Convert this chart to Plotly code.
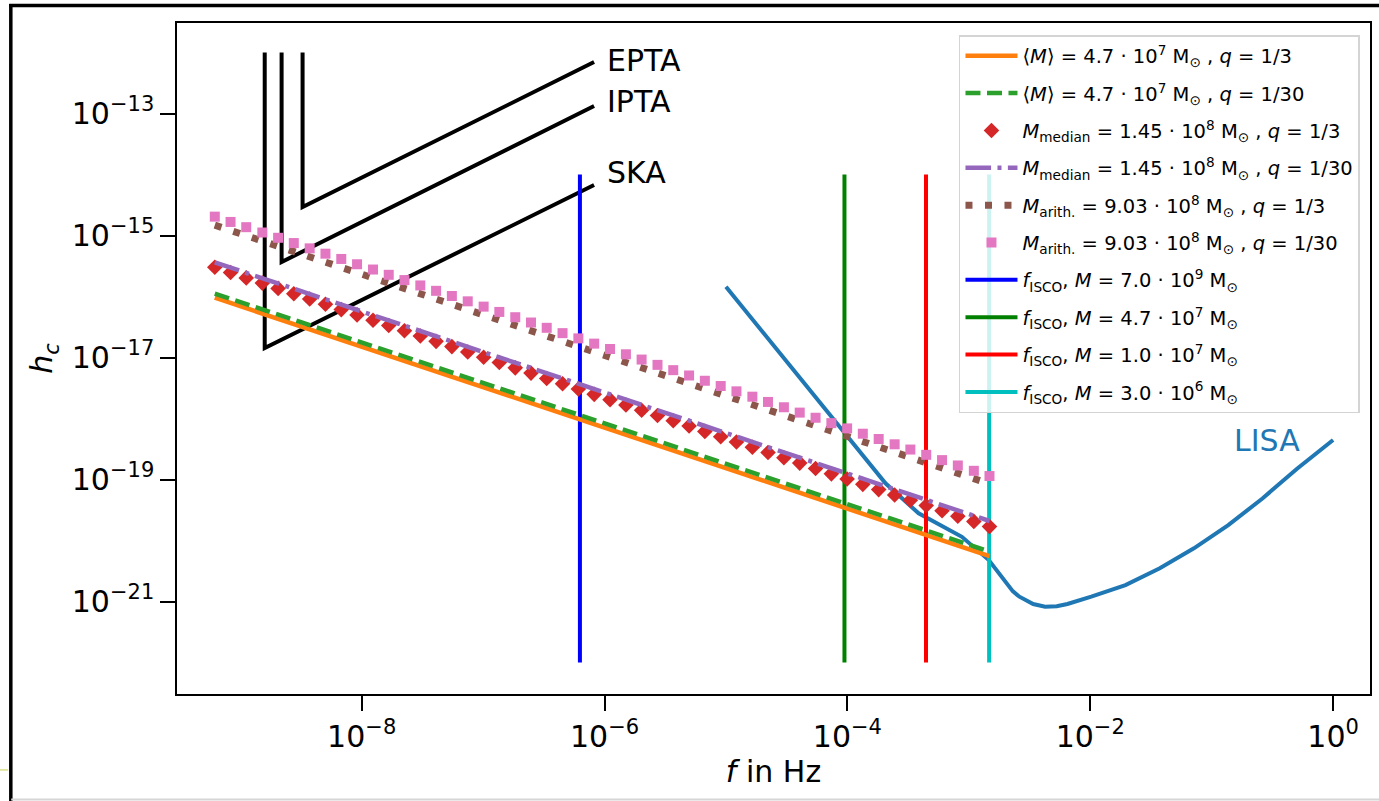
import math
import plotly.graph_objects as go

FONT = "DejaVu Sans"

# ---- binary population strain spectra (characteristic strain h_c vs f) ----
# log-spaced frequency grid (Hz) used for the marker series
freq = [6.17e-10, 8.32e-10, 1.12e-9, 1.52e-9, 2.05e-9, 2.76e-9, 3.73e-9, 5.03e-9, 6.79e-9, 9.16e-9,
        1.24e-8, 1.67e-8, 2.25e-8, 3.04e-8, 4.10e-8, 5.53e-8, 7.47e-8, 1.01e-7, 1.36e-7, 1.84e-7,
        2.48e-7, 3.34e-7, 4.51e-7, 6.09e-7, 8.22e-7, 1.11e-6, 1.50e-6, 2.02e-6, 2.73e-6, 3.68e-6,
        4.97e-6, 6.70e-6, 9.05e-6, 1.22e-5, 1.65e-5, 2.22e-5, 3.00e-5, 4.05e-5, 5.47e-5, 7.38e-5,
        9.95e-5, 1.34e-4, 1.81e-4, 2.45e-4, 3.30e-4, 4.46e-4, 6.02e-4, 8.12e-4, 1.10e-3, 1.48e-3]

hc_median_q3 = [3.02e-16, 2.47e-16, 2.02e-16, 1.66e-16, 1.36e-16, 1.11e-16, 9.10e-17, 7.45e-17, 6.10e-17, 5.00e-17,
                4.09e-17, 3.35e-17, 2.74e-17, 2.25e-17, 1.84e-17, 1.51e-17, 1.23e-17, 1.01e-17, 8.27e-18, 6.77e-18,
                5.55e-18, 4.54e-18, 3.72e-18, 3.05e-18, 2.49e-18, 2.04e-18, 1.67e-18, 1.37e-18, 1.12e-18, 9.18e-19,
                7.52e-19, 6.15e-19, 5.04e-19, 4.13e-19, 3.38e-19, 2.77e-19, 2.27e-19, 1.86e-19, 1.52e-19, 1.24e-19,
                1.02e-19, 8.34e-20, 6.83e-20, 5.59e-20, 4.58e-20, 3.75e-20, 3.07e-20, 2.51e-20, 2.06e-20, 1.69e-20]

hc_arith_q30 = [2.04e-15, 1.67e-15, 1.37e-15, 1.12e-15, 9.18e-16, 7.52e-16, 6.16e-16, 5.04e-16, 4.13e-16, 3.38e-16,
                2.77e-16, 2.27e-16, 1.86e-16, 1.52e-16, 1.24e-16, 1.02e-16, 8.34e-17, 6.83e-17, 5.59e-17, 4.58e-17,
                3.75e-17, 3.07e-17, 2.51e-17, 2.06e-17, 1.69e-17, 1.38e-17, 1.13e-17, 9.26e-18, 7.58e-18, 6.21e-18,
                5.08e-18, 4.16e-18, 3.41e-18, 2.79e-18, 2.28e-18, 1.87e-18, 1.53e-18, 1.25e-18, 1.03e-18, 8.41e-19,
                6.89e-19, 5.64e-19, 4.62e-19, 3.78e-19, 3.10e-19, 2.54e-19, 2.08e-19, 1.70e-19, 1.39e-19, 1.14e-19]

# power-law lines, given by their end points
f_band = [6.17e-10, 1.48e-3]
hc_mean_q3 = [9.55e-17, 5.57e-21]
hc_mean_q30 = [1.12e-16, 6.60e-21]
hc_median_q30 = [3.63e-16, 2.09e-20]
hc_arith_q3 = [1.48e-15, 8.50e-20]

# innermost stable circular orbit frequencies (Hz) and the h_c span of their markers
isco_f = [6.27e-7, 9.46e-5, 4.44e-4, 1.47e-3]
isco_span = [1e-22, 1e-14]

# LISA sensitivity curve
lisa_f = [1.0e-5, 9.04e-5, 2.06e-4, 3.86e-4, 8.77e-4, 1.46e-3, 1.75e-3, 2.01e-3, 2.30e-3, 2.61e-3,
          3.00e-3, 3.39e-3, 4.25e-3, 5.30e-3, 6.49e-3, 1.02e-2, 1.95e-2, 3.74e-2, 7.14e-2, 0.137,
          0.262, 0.502, 1.0]
lisa_h = [1.45e-16, 6.47e-19, 8.67e-20, 2.79e-20, 1.15e-20, 4.79e-21, 3.00e-21, 1.99e-21, 1.48e-21, 1.20e-21,
          1.02e-21, 9.10e-22, 8.22e-22, 8.35e-22, 9.10e-22, 1.20e-21, 1.86e-21, 3.50e-21, 7.45e-21, 1.79e-20,
          4.89e-20, 1.49e-19, 4.45e-19]

# pulsar timing array sensitivity curves
epta_f = [3.26e-9, 3.26e-9, 8.2e-7]
epta_h = [1e-12, 2.93e-15, 6.98e-13]
ipta_f = [2.19e-9, 2.19e-9, 8.2e-7]
ipta_h = [1e-12, 3.68e-16, 1.33e-13]
ska_f = [1.59e-9, 1.59e-9, 8.2e-7]
ska_h = [1e-12, 1.43e-17, 6.73e-15]

# legend labels
lab_mean_q3 = "⟨<i>M</i>⟩ = 4.7 · 10<sup>7</sup> M<sub>⊙</sub> , <i>q</i> = 1/3"
lab_mean_q30 = "⟨<i>M</i>⟩ = 4.7 · 10<sup>7</sup> M<sub>⊙</sub> , <i>q</i> = 1/30"
lab_med_q3 = "<i>M</i><sub>median</sub> = 1.45 · 10<sup>8</sup> M<sub>⊙</sub> , <i>q</i> = 1/3"
lab_med_q30 = "<i>M</i><sub>median</sub> = 1.45 · 10<sup>8</sup> M<sub>⊙</sub> , <i>q</i> = 1/30"
lab_ari_q3 = "<i>M</i><sub>arith.</sub> = 9.03 · 10<sup>8</sup> M<sub>⊙</sub> , <i>q</i> = 1/3"
lab_ari_q30 = "<i>M</i><sub>arith.</sub> = 9.03 · 10<sup>8</sup> M<sub>⊙</sub> , <i>q</i> = 1/30"
isco_labels = ["<i>f</i><sub>ISCO</sub>, <i>M</i> = 7.0 · 10<sup>9</sup> M<sub>⊙</sub>",
               "<i>f</i><sub>ISCO</sub>, <i>M</i> = 4.7 · 10<sup>7</sup> M<sub>⊙</sub>",
               "<i>f</i><sub>ISCO</sub>, <i>M</i> = 1.0 · 10<sup>7</sup> M<sub>⊙</sub>",
               "<i>f</i><sub>ISCO</sub>, <i>M</i> = 3.0 · 10<sup>6</sup> M<sub>⊙</sub>"]
isco_colors = ["#0000ff", "#008000", "#ff0000", "#00bfbf"]

x_tickvals = [1e-8, 1e-6, 1e-4, 1e-2, 1]
x_ticktext = ["10<sup>−8</sup>", "10<sup>−6</sup>", "10<sup>−4</sup>", "10<sup>−2</sup>", "10<sup>0</sup>"]
y_tickvals = [1e-21, 1e-19, 1e-17, 1e-15, 1e-13]
y_ticktext = ["10<sup>−21</sup>", "10<sup>−19</sup>", "10<sup>−17</sup>", "10<sup>−15</sup>", "10<sup>−13</sup>"]

fig = go.Figure()

# PTA curves
for f, h in [(epta_f, epta_h), (ipta_f, ipta_h), (ska_f, ska_h)]:
    fig.add_trace(go.Scatter(x=f, y=h, mode="lines", line=dict(color="black", width=4),
                             showlegend=False, hoverinfo="skip"))

# LISA
fig.add_trace(go.Scatter(x=lisa_f, y=lisa_h, mode="lines", line=dict(color="#1f77b4", width=4),
                         showlegend=False, hoverinfo="skip"))

# ISCO frequency markers
for i, (f, c, lab) in enumerate(zip(isco_f, isco_colors, isco_labels)):
    fig.add_trace(go.Scatter(x=[f, f], y=isco_span, mode="lines", line=dict(color=c, width=4),
                             name=lab, legendrank=7 + i, legendgroup=f"isco{i}"))

# binary populations
fig.add_trace(go.Scatter(x=f_band, y=hc_mean_q3, mode="lines", line=dict(color="#ff7f0e", width=4.5),
                         name=lab_mean_q3, legendrank=1, legendgroup="g1"))
fig.add_trace(go.Scatter(x=f_band, y=hc_mean_q30, mode="lines",
                         line=dict(color="#2ca02c", width=4.5, dash="15px,6.5px"),
                         name=lab_mean_q30, legendrank=2, legendgroup="g2"))
fig.add_trace(go.Scatter(x=freq, y=hc_median_q3, mode="markers",
                         marker=dict(symbol="diamond", size=12, color="#d62728", line=dict(width=0)),
                         name=lab_med_q3, legendrank=3, legendgroup="g3"))
fig.add_trace(go.Scatter(x=f_band, y=hc_median_q30, mode="lines",
                         line=dict(color="#9467bd", width=4.5, dash="25.6px,6.4px,4px,6.4px"),
                         name=lab_med_q30, legendrank=4, legendgroup="g4"))
fig.add_trace(go.Scatter(x=f_band, y=hc_arith_q3, mode="lines",
                         line=dict(color="#8c564b", width=7, dash="7px,12.5px"),
                         name=lab_ari_q3, legendrank=5, legendgroup="g5"))
fig.add_trace(go.Scatter(x=freq, y=hc_arith_q30, mode="markers",
                         marker=dict(symbol="square", size=10, color="#e377c2", line=dict(width=0)),
                         name=lab_ari_q30, legendrank=6, legendgroup="g6"))

# curve labels
annos = []
for text, f, h, dy in [("EPTA", epta_f[-1], epta_h[-1], 2), ("IPTA", ipta_f[-1], ipta_h[-1], 4),
                       ("SKA", ska_f[-1], ska_h[-1], 13)]:
    annos.append(dict(x=math.log10(f), y=math.log10(h), text=text, showarrow=False,
                      xanchor="left", yanchor="middle", xshift=11, yshift=dy,
                      font=dict(family=FONT, size=30, color="black")))
annos.append(dict(x=math.log10(0.147), y=math.log10(4.3e-19), text="LISA", showarrow=False,
                  xanchor="left", yanchor="middle", font=dict(family=FONT, size=30, color="#1f77b4")))

# page frame
shapes = [
    dict(type="line", xref="paper", yref="paper", x0=-0.1406, x1=1.01, y0=1.0261, y1=1.0261,
         line=dict(color="black", width=3.5)),
    dict(type="line", xref="paper", yref="paper", x0=-0.1393, x1=-0.1393, y0=1.0283, y1=-0.17,
         line=dict(color="black", width=3.5)),
    dict(type="line", xref="paper", yref="paper", x0=-0.139, x1=1.01, y0=-0.1572, y1=-0.1572,
         line=dict(color="#d6d6d6", width=2)),
    dict(type="line", xref="paper", yref="paper", x0=-0.15, x1=-0.1415, y0=-0.1132, y1=-0.1132,
         line=dict(color="#c8d24a", width=1)),
]

axis_common = dict(type="log", ticks="outside", ticklen=15, tickwidth=2, tickcolor="black",
                   showline=True, linecolor="black", linewidth=1.5, mirror=True,
                   showgrid=False, zeroline=False,
                   tickfont=dict(family=FONT, size=30, color="black"))

fig.update_layout(
    width=1379, height=801,
    margin=dict(l=177, r=7, t=23, b=107),
    paper_bgcolor="white", plot_bgcolor="white",
    font=dict(family=FONT, color="black"),
    xaxis=dict(axis_common, range=[-9.521, 0.304], tickvals=x_tickvals, ticktext=x_ticktext,
               title=dict(text="<i>f</i> in Hz", font=dict(family=FONT, size=30), standoff=8)),
    yaxis=dict(axis_common, range=[-22.516, -11.516], tickvals=y_tickvals, ticktext=y_ticktext,
               title=dict(text="<i>h<sub>c</sub></i>", font=dict(family=FONT, size=30), standoff=10)),
    legend=dict(x=0.9916, y=0.982, xanchor="right", yanchor="top",
                bgcolor="rgba(255,255,255,0.8)", bordercolor="#d4d4d4", borderwidth=1.5,
                font=dict(family=FONT, size=19.5, color="black"), tracegroupgap=9, itemwidth=52),
    annotations=annos,
    shapes=shapes,
    showlegend=True,
)

fig.write_html("out.html")
